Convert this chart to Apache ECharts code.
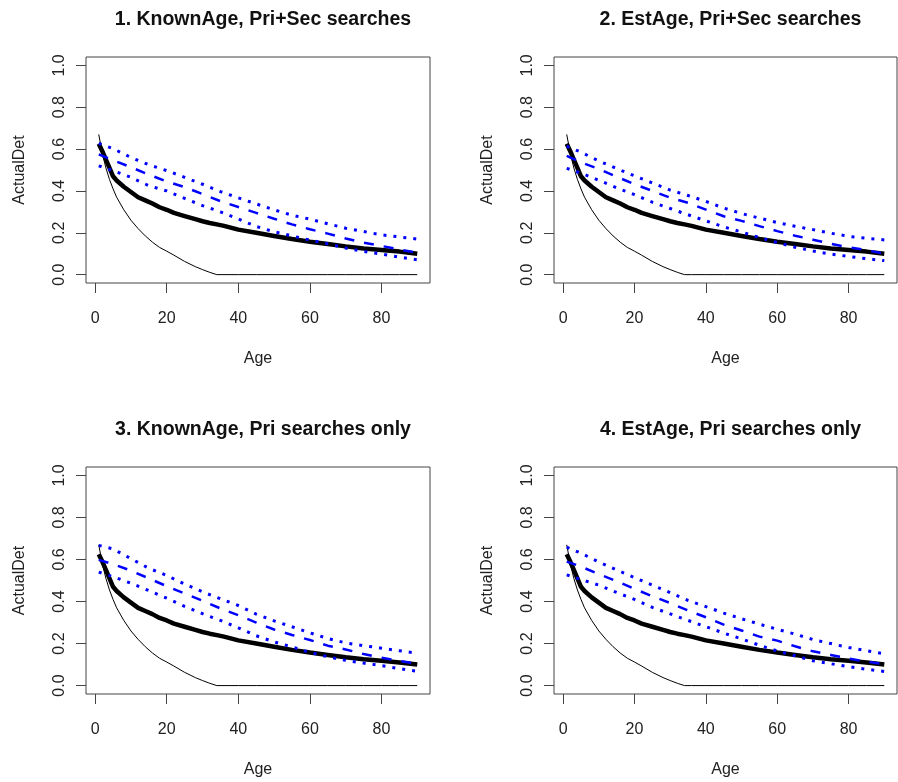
<!DOCTYPE html>
<html>
<head>
<meta charset="utf-8">
<script src="https://cdn.jsdelivr.net/npm/echarts@6/dist/echarts.min.js"></script>
<style>
  html, body { margin: 0; padding: 0; background: #fff; }
  #chart { width: 898px; height: 782px; }
</style>
</head>
<body>
<div id="chart"></div>
<script>
// black curves, same in all four panels
var ages = [1, 2, 3, 4, 5, 6, 8, 10, 12, 14, 16, 18, 20, 22, 25, 28, 30, 32, 34, 36, 40, 45, 50, 55, 60, 65, 70, 75, 80, 85, 90]
var thinDet = [0.67, 0.58, 0.51, 0.455, 0.41, 0.37, 0.31, 0.26, 0.22, 0.185, 0.155, 0.13, 0.112, 0.093, 0.063, 0.038, 0.024, 0.011, 0, 0, 0, 0, 0, 0, 0, 0, 0, 0, 0, 0, 0]
var thickDet = [0.625, 0.59, 0.55, 0.51, 0.47, 0.45, 0.42, 0.395, 0.37, 0.355, 0.34, 0.322, 0.31, 0.295, 0.28, 0.265, 0.255, 0.247, 0.24, 0.233, 0.215, 0.2, 0.185, 0.17, 0.157, 0.146, 0.135, 0.125, 0.118, 0.11, 0.1]

// blue estimate + bounds per panel
var blueAges = [1, 5, 10, 15, 20, 25, 30, 35, 40, 45, 50, 55, 60, 65, 70, 75, 80, 85, 90]

var p1Mid = [0.575, 0.547, 0.513, 0.478, 0.445, 0.418, 0.385, 0.351, 0.323, 0.295, 0.267, 0.24, 0.217, 0.196, 0.173, 0.153, 0.137, 0.12, 0.105]
var p1Up = [0.627, 0.602, 0.56, 0.525, 0.497, 0.465, 0.432, 0.397, 0.367, 0.338, 0.31, 0.284, 0.265, 0.243, 0.222, 0.206, 0.19, 0.18, 0.17]
var p1Low = [0.52, 0.497, 0.465, 0.425, 0.4, 0.364, 0.33, 0.3, 0.266, 0.23, 0.205, 0.185, 0.165, 0.147, 0.127, 0.111, 0.098, 0.084, 0.071]

var p2Mid = [0.567, 0.537, 0.505, 0.468, 0.432, 0.4, 0.368, 0.343, 0.311, 0.279, 0.257, 0.232, 0.208, 0.186, 0.167, 0.147, 0.131, 0.117, 0.1]
var p2Up = [0.614, 0.585, 0.543, 0.507, 0.472, 0.438, 0.404, 0.378, 0.35, 0.318, 0.292, 0.27, 0.249, 0.231, 0.215, 0.198, 0.183, 0.174, 0.166]
var p2Low = [0.508, 0.485, 0.451, 0.415, 0.382, 0.346, 0.316, 0.286, 0.257, 0.228, 0.204, 0.177, 0.153, 0.131, 0.113, 0.098, 0.087, 0.076, 0.067]

var p3Mid = [0.598, 0.578, 0.547, 0.51, 0.473, 0.438, 0.404, 0.367, 0.335, 0.3, 0.267, 0.241, 0.217, 0.19, 0.172, 0.15, 0.133, 0.117, 0.105]
var p3Up = [0.667, 0.65, 0.604, 0.558, 0.524, 0.483, 0.446, 0.413, 0.381, 0.34, 0.308, 0.28, 0.251, 0.224, 0.203, 0.19, 0.178, 0.166, 0.154]
var p3Low = [0.54, 0.518, 0.487, 0.452, 0.416, 0.377, 0.342, 0.31, 0.275, 0.237, 0.208, 0.184, 0.158, 0.137, 0.12, 0.107, 0.095, 0.081, 0.068]

var p4Mid = [0.59, 0.566, 0.53, 0.497, 0.46, 0.425, 0.393, 0.357, 0.325, 0.29, 0.262, 0.233, 0.214, 0.187, 0.163, 0.146, 0.129, 0.114, 0.101]
var p4Up = [0.659, 0.63, 0.588, 0.55, 0.514, 0.478, 0.442, 0.405, 0.376, 0.345, 0.318, 0.292, 0.268, 0.245, 0.219, 0.2, 0.181, 0.166, 0.151]
var p4Low = [0.527, 0.505, 0.478, 0.443, 0.41, 0.372, 0.341, 0.31, 0.28, 0.25, 0.222, 0.192, 0.165, 0.142, 0.118, 0.104, 0.09, 0.078, 0.067]

var titles = ['1. KnownAge, Pri+Sec searches', '2. EstAge, Pri+Sec searches', '3. KnownAge, Pri searches only', '4. EstAge, Pri searches only']
var xTicks = [0, 20, 40, 60, 80]
var yTicks = [0, 0.2, 0.4, 0.6, 0.8, 1.0]

var panels = [
  { mid: p1Mid, up: p1Up, low: p1Low },
  { mid: p2Mid, up: p2Up, low: p2Low },
  { mid: p3Mid, up: p3Up, low: p3Low },
  { mid: p4Mid, up: p4Up, low: p4Low }
]

// pixel boxes of the four plot regions
var boxes = [
  { left: 86, top: 57, width: 344, height: 226 },
  { left: 554, top: 57, width: 343, height: 226 },
  { left: 86, top: 467, width: 344, height: 227 },
  { left: 554, top: 467, width: 343, height: 227 }
]

function pairs (xs, ys) {
  return xs.map(function (x, i) { return [x, ys[i]] })
}

var font = 'Liberation Sans, Arial, sans-serif'
var grid = []
var xAxis = []
var yAxis = []
var series = []
var title = []

boxes.forEach(function (b, i) {
  grid.push({
    left: b.left,
    top: b.top,
    width: b.width,
    height: b.height,
    show: true,
    borderColor: '#444',
    borderWidth: 1,
    backgroundColor: 'transparent'
  })
  title.push({
    text: titles[i],
    left: b.left + b.width / 2,
    top: b.top - 52,
    textAlign: 'center',
    textStyle: { fontFamily: font, fontSize: 19.5, fontWeight: 'bold', color: '#111' }
  })
  xAxis.push({
    gridIndex: i,
    type: 'value',
    min: -2.56,
    max: 93.56,
    name: 'Age',
    nameLocation: 'middle',
    nameGap: 68,
    nameTextStyle: { fontFamily: font, fontSize: 16, color: '#222' },
    axisLine: { show: false, onZero: false },
    splitLine: { show: false },
    axisTick: { show: true, inside: false, length: 10, customValues: xTicks, lineStyle: { color: '#444' } },
    axisLabel: { customValues: xTicks, margin: 28, fontFamily: font, fontSize: 16, color: '#222' }
  })
  yAxis.push({
    gridIndex: i,
    type: 'value',
    min: -0.04,
    max: 1.04,
    name: 'ActualDet',
    nameLocation: 'middle',
    nameGap: 58,
    nameTextStyle: { fontFamily: font, fontSize: 16, color: '#222' },
    axisLine: { show: false, onZero: false },
    splitLine: { show: false },
    axisTick: { show: true, inside: false, length: 10, customValues: yTicks, lineStyle: { color: '#444' } },
    axisLabel: {
      customValues: yTicks,
      rotate: 90,
      margin: 18,
      fontFamily: font,
      fontSize: 16,
      color: '#222',
      formatter: function (v) { return v.toFixed(1) }
    }
  })

  var common = { xAxisIndex: i, yAxisIndex: i, type: 'line', showSymbol: false, silent: true, animation: false }
  series.push(Object.assign({}, common, {
    data: pairs(ages, thinDet),
    lineStyle: { color: '#000', width: 1 }
  }))
  series.push(Object.assign({}, common, {
    data: pairs(ages, thickDet),
    lineStyle: { color: '#000', width: 4.5 }
  }))
  series.push(Object.assign({}, common, {
    data: pairs(blueAges, panels[i].mid),
    lineStyle: { color: '#0000ff', width: 2.5, type: [10, 10] }
  }))
  series.push(Object.assign({}, common, {
    data: pairs(blueAges, panels[i].up),
    lineStyle: { color: '#0000ff', width: 3, type: [3, 7] }
  }))
  series.push(Object.assign({}, common, {
    data: pairs(blueAges, panels[i].low),
    lineStyle: { color: '#0000ff', width: 3, type: [3, 7] }
  }))
})

var chart = echarts.init(document.getElementById('chart'))
chart.setOption({
  animation: false,
  backgroundColor: '#fff',
  title: title,
  grid: grid,
  xAxis: xAxis,
  yAxis: yAxis,
  series: series
})
</script>
</body>
</html>
